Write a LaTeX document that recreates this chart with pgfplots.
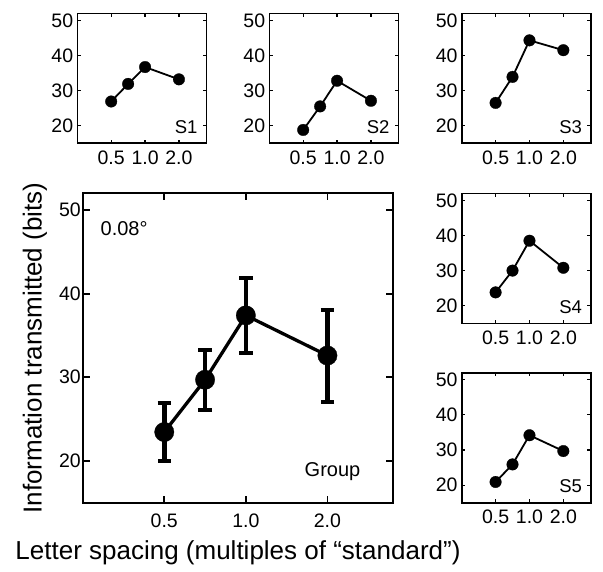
\documentclass[border=0pt]{standalone}
\usepackage{fontspec}
\setmainfont{Liberation Sans}
\usepackage{pgfplots}
\pgfplotsset{compat=1.18}
\tikzset{
  sline/.style={black, line width=1.8bp, mark=*, mark size=5.8bp, mark options={line width=0.3bp}},
  slab/.style={anchor=base east, inner sep=0pt, font=\fontsize{18.5bp}{19bp}\selectfont},
}
\begin{document}
\begin{tikzpicture}
\useasboundingbox (0,0) rectangle (603bp,-572bp);
% S1
\begin{axis}[at={(77.3bp,-13.3bp)}, anchor=north west,
    scale only axis, width=129bp, height=130bp,
    xmode=log, log basis x=2, xmin=0.25, xmax=3.5, ymin=15, ymax=52,
    ytick={20,30,40,50}, xtick={0.5,1,2}, xticklabels={0.5,1.0,2.0},
    /pgf/number format/assume math mode=true, tick align=inside,
    ticklabel style={font=\fontsize{19.5bp}{20bp}\selectfont}, clip=false,
    line width=1.6bp,
    major tick length=3.5bp, tick style={line width=1.2bp, black},
    xticklabel style={yshift=-3bp}]
\addplot[sline] coordinates {(0.5,26.9) (0.7071,31.9) (1,36.7) (2,33.2)};
\node[slab] at (rel axis cs:1,0) [xshift=-8bp, yshift=10bp] {S1};
\end{axis}
% S2
\begin{axis}[at={(269.3bp,-13.3bp)}, anchor=north west,
    scale only axis, width=129bp, height=130bp,
    xmode=log, log basis x=2, xmin=0.25, xmax=3.5, ymin=15, ymax=52,
    ytick={20,30,40,50}, xtick={0.5,1,2}, xticklabels={0.5,1.0,2.0},
    /pgf/number format/assume math mode=true, tick align=inside,
    ticklabel style={font=\fontsize{19.5bp}{20bp}\selectfont}, clip=false,
    line width=1.6bp,
    major tick length=3.5bp, tick style={line width=1.2bp, black},
    xticklabel style={yshift=-3bp}]
\addplot[sline] coordinates {(0.5,18.8) (0.7071,25.5) (1,32.8) (2,27.1)};
\node[slab] at (rel axis cs:1,0) [xshift=-8bp, yshift=10bp] {S2};
\end{axis}
% S3
\begin{axis}[at={(461.7bp,-13.3bp)}, anchor=north west,
    scale only axis, width=129bp, height=130bp,
    xmode=log, log basis x=2, xmin=0.25, xmax=3.5, ymin=15, ymax=52,
    ytick={20,30,40,50}, xtick={0.5,1,2}, xticklabels={0.5,1.0,2.0},
    /pgf/number format/assume math mode=true, tick align=inside,
    ticklabel style={font=\fontsize{19.5bp}{20bp}\selectfont}, clip=false,
    line width=1.6bp,
    major tick length=3.5bp, tick style={line width=1.2bp, black},
    xticklabel style={yshift=-3bp}]
\addplot[sline] coordinates {(0.5,26.5) (0.7071,33.9) (1,44.3) (2,41.5)};
\node[slab] at (rel axis cs:1,0) [xshift=-8bp, yshift=10bp] {S3};
\end{axis}
% S4
\begin{axis}[at={(461.7bp,-193.3bp)}, anchor=north west,
    scale only axis, width=129bp, height=130bp,
    xmode=log, log basis x=2, xmin=0.25, xmax=3.5, ymin=15, ymax=52,
    ytick={20,30,40,50}, xtick={0.5,1,2}, xticklabels={0.5,1.0,2.0},
    /pgf/number format/assume math mode=true, tick align=inside,
    ticklabel style={font=\fontsize{19.5bp}{20bp}\selectfont}, clip=false,
    line width=1.6bp,
    major tick length=3.5bp, tick style={line width=1.2bp, black},
    xticklabel style={yshift=-3bp}]
\addplot[sline] coordinates {(0.5,23.8) (0.7071,30.0) (1,38.5) (2,30.8)};
\node[slab] at (rel axis cs:1,0) [xshift=-8bp, yshift=10bp] {S4};
\end{axis}
% S5
\begin{axis}[at={(461.7bp,-372.7bp)}, anchor=north west,
    scale only axis, width=129bp, height=130bp,
    xmode=log, log basis x=2, xmin=0.25, xmax=3.5, ymin=15, ymax=52,
    ytick={20,30,40,50}, xtick={0.5,1,2}, xticklabels={0.5,1.0,2.0},
    /pgf/number format/assume math mode=true, tick align=inside,
    ticklabel style={font=\fontsize{19.5bp}{20bp}\selectfont}, clip=false,
    line width=1.6bp,
    major tick length=3.5bp, tick style={line width=1.2bp, black},
    xticklabel style={yshift=-3bp}]
\addplot[sline] coordinates {(0.5,20.9) (0.7071,25.9) (1,34.2) (2,29.7)};
\node[slab] at (rel axis cs:1,0) [xshift=-8bp, yshift=10bp] {S5};
\end{axis}
% Main
\begin{axis}[at={(82.7bp,-193.3bp)}, anchor=north west,
    scale only axis, width=310.6bp, height=309.4bp,
    xmode=log, log basis x=2, xmin=0.25, xmax=3.5, ymin=15, ymax=52,
    ytick={20,30,40,50}, xtick={0.5,1,2}, xticklabels={0.5,1.0,2.0},
    /pgf/number format/assume math mode=true, tick align=inside,
    ticklabel style={font=\fontsize{19.5bp}{20bp}\selectfont}, clip=false,
    line width=2bp,
    major tick length=7bp, tick style={line width=1.8bp, black},
    xticklabel style={yshift=-6.5bp}, yticklabel style={inner xsep=1bp}]
\addplot[black, line width=3.3bp, mark=*, mark size=9.7bp, mark options={line width=0.3bp},
  error bars/.cd, y dir=both, y explicit,
  error bar style={line width=4.5bp},
  error mark options={rotate=90, mark size=6.7bp, line width=4bp}]
  table[x=x, y=y, y error=e] {
x y e
0.5 23.45 3.5
0.7071 29.7 3.6
1 37.4 4.5
2 32.6 5.5
};
\node[anchor=base east, inner sep=0pt, font=\fontsize{20bp}{21bp}\selectfont] at (rel axis cs:1,0) [xshift=-32bp, yshift=26bp] {Group};
\node[anchor=base west, inner sep=0pt, font=\fontsize{20bp}{21bp}\selectfont] at (rel axis cs:0,1) [xshift=17bp, yshift=-42.4bp] {0.08°};
\node[anchor=base, inner sep=0pt, font=\fontsize{26bp}{27bp}\selectfont] at (rel axis cs:0.5,0) [yshift=-57bp] {Letter spacing (multiples of “standard”)};
\node[xshift=-41bp, rotate=90, anchor=base, inner sep=0pt, font=\fontsize{26bp}{27bp}\selectfont] at (rel axis cs:0,0.5) {Information transmitted (bits)};
\end{axis}
\end{tikzpicture}
\end{document}
